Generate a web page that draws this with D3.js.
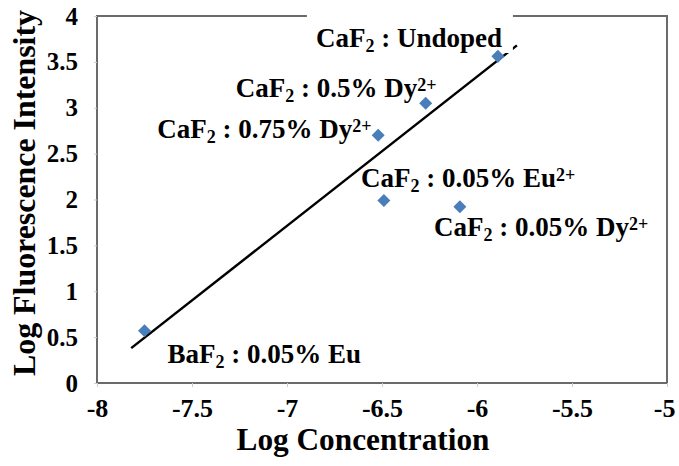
<!DOCTYPE html>
<html>
<head>
<meta charset="utf-8">
<script src="https://cdn.jsdelivr.net/npm/d3@7"></script>
<style>
  body { margin: 0; background: #fff; }
</style>
</head>
<body>
<div id="chartdiv"></div>
<script>
/* --- chart data --- */
let samples = ["CaF2 : Undoped", "CaF2 : 0.5% Dy2+", "CaF2 : 0.75% Dy2+", "CaF2 : 0.05% Eu2+", "CaF2 : 0.05% Dy2+", "BaF2 : 0.05% Eu"]
let logConc = [-5.89, -6.27, -6.52, -6.49, -6.09, -7.75]
let logFluor = [3.56, 3.05, 2.70, 1.99, 1.92, 0.57]
// linear trend line end points
let trendX = [-7.82, -5.79]
let trendY = [0.38, 3.68]
let xTicks = [-8, -7.5, -7, -6.5, -6, -5.5, -5]
let yTicks = [0, 0.5, 1, 1.5, 2, 2.5, 3, 3.5, 4]
/* ------------------ */

let width = 679
let height = 466
let leftMargin = 97
let rightMargin = 12
let topMargin = 16
let bottomMargin = 83
let serif = '"Liberation Serif", "Times New Roman", Times, serif'

// label parts: base, subscript, rest, superscript ; offsets from point in px
let labelParts = [
  ["CaF", "2", " : Undoped", ""],
  ["CaF", "2", " : 0.5% Dy", "2+"],
  ["CaF", "2", " : 0.75% Dy", "2+"],
  ["CaF", "2", " : 0.05% Eu", "2+"],
  ["CaF", "2", " : 0.05% Dy", "2+"],
  ["BaF", "2", " : 0.05% Eu", ""]
]
let labelOffsets = [[-182, -9], [-190, -6], [-221, 3], [-23, -13], [-26, 29], [23, 32]]

function bold(sel, size){
  sel.style("font-family", serif)
    .style("font-weight", "bold")
    .style("font-size", size)
    .attr("fill", "#000")
  return sel
}

function drawChart(){
  let svg = d3.select('#chartdiv')
    .append('svg')
    .attr("width", width)
    .attr("height", height)

  let xscale = d3.scaleLinear()
    .domain([-8, -5])
    .range([leftMargin, width - rightMargin])
  let yscale = d3.scaleLinear()
    .domain([0, 4])
    .range([height - bottomMargin, topMargin])

  // frame
  svg.append("rect")
    .attr("x", xscale(-8))
    .attr("y", yscale(4))
    .attr("width", xscale(-5) - xscale(-8))
    .attr("height", yscale(0) - yscale(4))
    .attr("fill", "none")
    .attr("stroke", "#6b6b6b")
    .attr("stroke-width", 2)

  // axes
  let x_axis = d3.axisBottom(xscale).tickValues(xTicks).tickSize(4).tickPadding(12).tickFormat(d => String(d))
  let gx = svg.append("g")
    .attr("transform", `translate(0, ${yscale(0)})`)
    .call(x_axis)
  gx.select(".domain").remove()
  gx.selectAll(".tick line").attr("stroke", "#ccc")
  bold(gx.selectAll("text"), "26px")
  gx.selectAll(".tick:last-of-type text").attr("text-anchor", "end").attr("dx", 8)

  let y_axis = d3.axisLeft(yscale).tickValues(yTicks).tickSize(3).tickPadding(16).tickFormat(d => String(d))
  let gy = svg.append("g")
    .attr("transform", `translate(${xscale(-8)}, 0)`)
    .call(y_axis)
  gy.select(".domain").remove()
  gy.selectAll(".tick line").attr("stroke", "#ccc")
  bold(gy.selectAll("text"), "25px")

  // trend line
  svg.append("line")
    .attr("x1", xscale(trendX[0]))
    .attr("y1", yscale(trendY[0]))
    .attr("x2", xscale(trendX[1]))
    .attr("y2", yscale(trendY[1]))
    .attr("stroke", "#000")
    .attr("stroke-width", 2.5)

  // labels
  logConc.forEach((xv, i) => {
    let px = xscale(xv) + labelOffsets[i][0]
    let py = yscale(logFluor[i]) + labelOffsets[i][1]
    let p = labelParts[i]
    if (i == 0) {
      svg.append("rect")
        .attr("x", px - 9).attr("y", yscale(4) - 3)
        .attr("width", 206).attr("height", 40)
        .attr("fill", "#fff")
    }
    let t = bold(svg.append("text"), "27px")
      .attr("x", px)
      .attr("y", py)
    t.append("tspan").text(p[0])
    t.append("tspan").text(p[1]).attr("dy", 5).style("font-size", "18px")
    t.append("tspan").text(p[2]).attr("dy", -5)
    if (p[3]) t.append("tspan").text(p[3]).attr("dy", -6).style("font-size", "18px")
  })

  // points
  logConc.forEach((xv, i) => {
    svg.append("rect")
      .attr("x", -4.6).attr("y", -4.6)
      .attr("width", 9.2).attr("height", 9.2)
      .attr("fill", "#4a7ebb")
      .attr("transform", `translate(${xscale(xv)}, ${yscale(logFluor[i])}) rotate(45)`)
  })

  // axis titles
  bold(svg.append("text"), "31px")
    .attr("x", 363)
    .attr("y", 450)
    .attr("text-anchor", "middle")
    .attr("textLength", 253)
    .attr("lengthAdjust", "spacingAndGlyphs")
    .text("Log Concentration")

  bold(svg.append("text"), "32px")
    .attr("transform", `translate(35, 193) rotate(-90)`)
    .attr("text-anchor", "middle")
    .attr("textLength", 366)
    .attr("lengthAdjust", "spacingAndGlyphs")
    .text("Log Fluorescence Intensity")
}
drawChart()
</script>
</body>
</html>
